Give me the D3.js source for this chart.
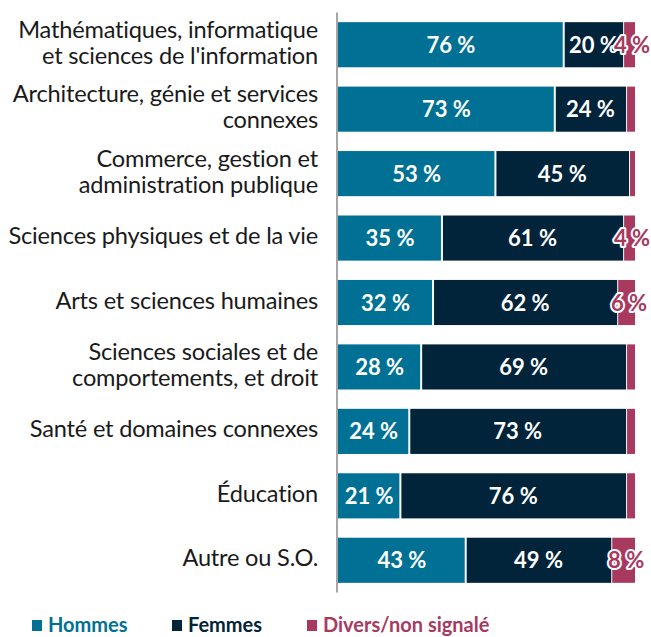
<!DOCTYPE html>
<html>
<head>
<meta charset="utf-8">
<script src="https://cdn.jsdelivr.net/npm/d3@7"></script>
<style>
  body { margin: 0; background: #fff; }
  svg { display: block; font-family: Lato, "Open Sans", sans-serif; }
</style>
</head>
<body>
<svg id="chart" width="651" height="637"></svg>
<script>
const categories = [
  ['Mathématiques, informatique', "et sciences de l'information"],
  ['Architecture, génie et services', 'connexes'],
  ['Commerce, gestion et', 'administration publique'],
  ['Sciences physiques et de la vie'],
  ['Arts et sciences humaines'],
  ['Sciences sociales et de', 'comportements, et droit'],
  ['Santé et domaines connexes'],
  ['Éducation'],
  ['Autre ou S.O.']
]
const hommes = [76, 73, 53, 35, 32, 28, 24, 21, 43]
const femmes = [20, 24, 45, 61, 62, 69, 73, 76, 49]
const divers = [4, 3, 2, 4, 6, 3, 3, 3, 8]
const seriesNames = ['Hommes', 'Femmes', 'Divers/non signalé']
const colors = ['#007094', '#02243a', '#a8395f']

const svg = d3.select('#chart')
const y = d3.scaleBand().domain(d3.range(categories.length)).range([12.5, 592.5])
  .paddingInner(0.3).paddingOuter(0.15)
const x = d3.scaleLinear().domain([0, 100]).range([338, 635])

const rows = categories.map((c, i) => {
  const vals = [hommes[i], femmes[i], divers[i]]
  let acc = 0
  const segs = vals.map((v, k) => {
    const s = { row: i, k, v, x0: acc, x1: acc + v }
    acc += v
    return s
  })
  return { i, label: c, segs }
})

// category labels
const labels = svg.append('g').selectAll('text').data(rows).enter().append('text')
  .attr('text-anchor', 'end')
  .attr('fill', '#1a1a1a')
  .style('font-size', '23.6px')
  .style('letter-spacing', '-0.2px')
labels.selectAll('tspan').data(r => r.label.map((t, j) => ({ t, j, n: r.label.length, r: r.i })))
  .enter().append('tspan')
  .attr('x', 318)
  .attr('y', d => y(d.r) + y.bandwidth() / 2 + 6 + (d.j - (d.n - 1) / 2) * 26)
  .text(d => d.t)

// bars
const segs = rows.flatMap(r => r.segs)
svg.append('g').selectAll('rect').data(segs).enter().append('rect')
  .attr('x', d => x(d.x0) + (d.k > 0 ? 1 : 0))
  .attr('width', d => Math.max(0, x(d.x1) - x(d.x0) - 1))
  .attr('y', d => y(d.row))
  .attr('height', y.bandwidth())
  .attr('fill', d => colors[d.k])

// axis line
svg.append('line')
  .attr('x1', 337).attr('x2', 337)
  .attr('y1', y.range()[0]).attr('y2', y.range()[1])
  .attr('stroke', '#a6a6a6').attr('stroke-width', 2)

// value labels
const shown = segs.filter(d => d.k < 2 || d.v >= 4)
svg.append('g').selectAll('text').data(shown).enter().append('text')
  .attr('x', d => (x(d.x0) + x(d.x1)) / 2 + (d.k === 2 ? 3 : 0))
  .attr('y', d => y(d.row) + y.bandwidth() / 2 + 8)
  .attr('text-anchor', 'middle')
  .style('font-size', '22px')
  .style('font-weight', 700)
  .style('paint-order', 'stroke')
  .attr('fill', d => d.k === 2 ? colors[2] : '#fff')
  .attr('stroke', d => d.k === 2 ? '#fff' : 'none')
  .attr('stroke-width', 4)
  .attr('stroke-linejoin', 'round')
  .text(d => d.v + ' %')

// legend
const legendX = [32, 172, 307]
const lg = svg.append('g').selectAll('g').data(seriesNames).enter().append('g')
  .attr('transform', (d, i) => `translate(${legendX[i]}, 620)`)
lg.append('rect').attr('width', 10).attr('height', 11).attr('fill', (d, i) => colors[i])
lg.append('text')
  .attr('x', 16).attr('y', 12)
  .attr('fill', (d, i) => colors[i])
  .style('font-size', '20px').style('font-weight', 700)
  .text(d => d)
</script>
</body>
</html>
